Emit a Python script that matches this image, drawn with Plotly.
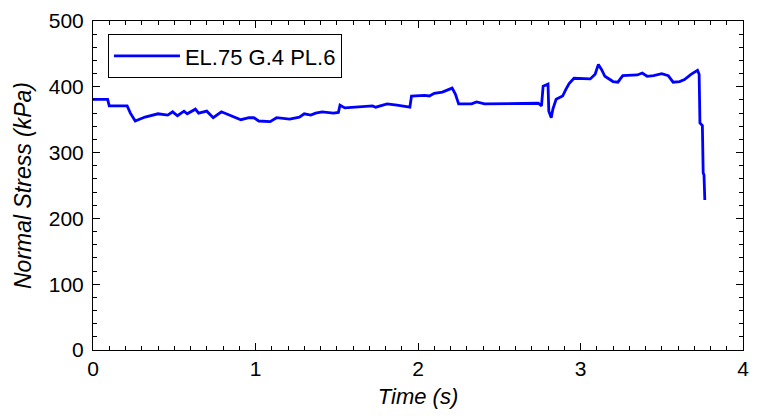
import plotly.graph_objects as go

series_name = "EL.75 G.4 PL.6"
time_s = [0.0, 0.09, 0.10, 0.21, 0.23, 0.26, 0.29, 0.32, 0.40, 0.46, 0.49, 0.52, 0.56, 0.58, 0.63, 0.65,
          0.70, 0.74, 0.79, 0.82, 0.87, 0.91, 0.96, 0.99, 1.02, 1.09, 1.13, 1.21, 1.27, 1.30, 1.34, 1.37,
          1.41, 1.48, 1.51, 1.52, 1.55, 1.60, 1.72, 1.74, 1.81, 1.87, 1.95, 1.96, 2.04, 2.07, 2.10, 2.15,
          2.20, 2.21, 2.23, 2.25, 2.33, 2.36, 2.41, 2.51, 2.59, 2.74, 2.76, 2.77, 2.80, 2.805, 2.82, 2.83,
          2.85, 2.89, 2.91, 2.93, 2.96, 3.02, 3.06, 3.09, 3.11, 3.13, 3.15, 3.20, 3.23, 3.26, 3.35, 3.38,
          3.41, 3.45, 3.50, 3.54, 3.57, 3.61, 3.64, 3.68, 3.72, 3.73, 3.735, 3.75, 3.755, 3.76, 3.765]
stress_kpa = [381, 381, 371, 371, 360, 348, 351, 354, 359, 357, 362, 356, 363, 359, 366, 360,
              363, 353, 362, 359, 353, 350, 353, 353, 348, 347, 353, 351, 354, 359, 357, 360,
              362, 360, 361, 372, 368, 369, 371, 369, 374, 372, 369, 386, 387, 386, 390, 392,
              398, 398, 389, 374, 374, 377, 374, 374, 375, 375, 371, 401, 404, 363, 353, 366,
              381, 386, 396, 405, 413, 413, 412, 419, 434, 426, 416, 408, 407, 417, 418, 421,
              416, 417, 420, 417, 407, 408, 411, 419, 425, 419, 345, 341, 269, 266, 228]

x_ticks = [0, 1, 2, 3, 4]
y_ticks = [0, 100, 200, 300, 400, 500]

font_family = "Liberation Sans, Arial, sans-serif"

fig = go.Figure()
fig.add_trace(go.Scatter(
    x=time_s, y=stress_kpa, mode="lines", name=series_name,
    line=dict(color="#0000FF", width=2.8, shape="linear"),
))

axis_common = dict(
    showgrid=False, zeroline=False, showline=True, linecolor="#000000", linewidth=1,
    mirror="ticks", ticks="inside", ticklen=7, tickwidth=1, tickcolor="#000000",
    tickfont=dict(family=font_family, size=21, color="#000000"),
)

fig.update_xaxes(
    range=[0, 4], tickvals=x_ticks, ticktext=[str(v) for v in x_ticks],
    minor=dict(dtick=0.1, ticks="inside", ticklen=4, tickcolor="#000000", tickwidth=1),
    title=dict(text="<i>Time (s)</i>", font=dict(family=font_family, size=22, color="#000000"), standoff=9),
    **axis_common,
)
fig.update_yaxes(
    range=[0, 500], tickvals=y_ticks, ticktext=[str(v) for v in y_ticks],
    minor=dict(dtick=20, ticks="inside", ticklen=4, tickcolor="#000000", tickwidth=1),
    ticklabelstandoff=4,
    title=dict(text="<i>Normal Stress (kPa)</i>", font=dict(family=font_family, size=23, color="#000000"), standoff=10),
    **axis_common,
)

fig.update_layout(
    width=758, height=416,
    margin=dict(l=93, r=9, t=20, b=66),
    paper_bgcolor="#FFFFFF", plot_bgcolor="#FFFFFF",
    showlegend=True,
    legend=dict(
        x=0.023, y=0.96, xanchor="left", yanchor="top",
        bgcolor="#FFFFFF", bordercolor="#000000", borderwidth=1,
        font=dict(family=font_family, size=22, color="#000000"),
        itemwidth=66,
    ),
)

fig.write_html("out.html")
